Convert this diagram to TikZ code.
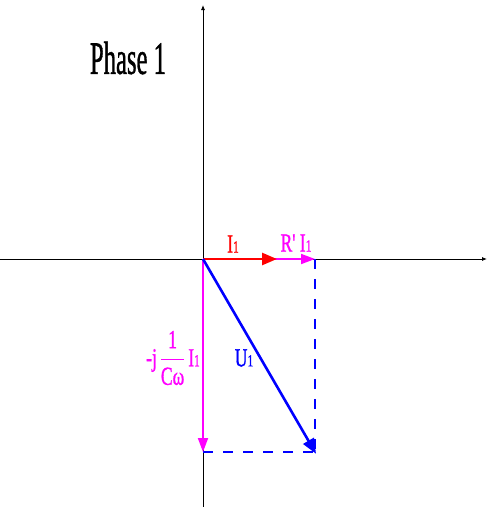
\documentclass[tikz,border=0pt]{standalone}
\usepackage{fontspec}
\setmainfont{Liberation Serif}
\newfontfamily\heavyfont[FakeBold=1.2]{Liberation Serif}
\usetikzlibrary{arrows.meta}

\definecolor{pink}{rgb}{1,0,1}
\newcommand{\idx}[1]{{\fontsize{13}{13}\selectfont #1}}

\begin{document}
\begin{tikzpicture}[x=1pt,y=-1pt,
		axis/.style={-{Latex[length=5pt,width=4pt]}, line width=0.8pt},
		phasor/.style={-{Triangle[length=15pt,width=12pt]}, line width=2.6pt},
		comp/.style={pink, -{Triangle[length=14pt,width=10pt]}, line width=1.8pt},
		proj/.style={blue, dash pattern=on 10pt off 10pt, line width=1.1pt},
		lbl/.style={font=\heavyfont\fontsize{20}{20}\selectfont, xscale=0.88, yscale=1.3, inner sep=0pt}
	]
		\useasboundingbox (0,0) rectangle (493,507);
		\coordinate (O) at (203,259);
		\coordinate (xl) at (0,259);
		\coordinate (xr) at (487,259);
		\coordinate (yb) at (203,507);
		\coordinate (yt) at (203,5);
		\coordinate (I) at (277,259);
		\coordinate (R) at (315,259);
		\coordinate (C) at (203,452);
		\coordinate (U) at (315,452);
		
		\draw [axis] (xl) -- (xr);
		\draw [axis] (yb) -- (yt);
		
		\draw [proj] (R) -- (U);
		\draw [proj] (C) -- (U);
		
		\draw [comp] (O) -- (R);
		\draw [comp] (O) -- (C);
		\draw [phasor, red] (O) -- (I);
		\draw [phasor, blue, shorten >=-2pt] (O) -- (U);
		
		\node [lbl, red] (lI) at (233,244) {I\idx{1}};
		\node [lbl, pink] (lR) at (296,243) {R' I\idx{1}};
		\node [lbl, blue] (lU) at (244,358) {U\idx{1}};
		\node [lbl, pink, anchor=east] (lC) at (200,358) {-j\,$\displaystyle\frac{\mbox{1}}{\mbox{Cω}}$\,I\idx{1}};
		\node [font=\heavyfont\fontsize{32}{32}\selectfont, xscale=0.77, yscale=1.45] (title) at (128,58) {Phase 1};
\end{tikzpicture}
\end{document}
